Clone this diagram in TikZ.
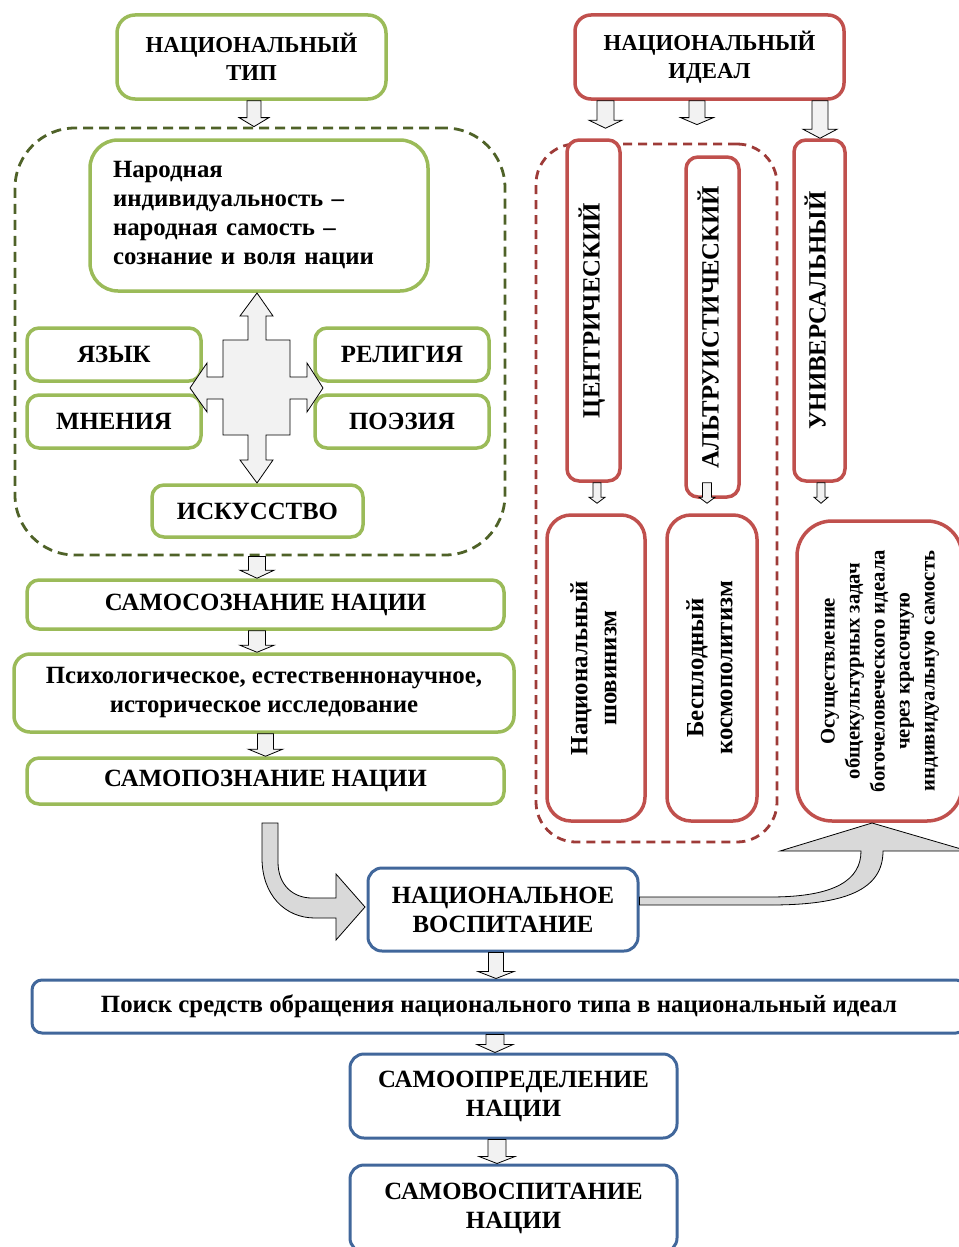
\documentclass[tikz,border=0pt]{standalone}
\usepackage{fontspec}
\setmainfont{Liberation Serif}
\usetikzlibrary{calc}
\definecolor{grn}{HTML}{9BBB59}
\definecolor{olv}{HTML}{4F6228}
\definecolor{rd}{HTML}{C0504D}
\definecolor{drd}{HTML}{9E3B38}
\definecolor{blu}{HTML}{41679B}
\definecolor{afill}{HTML}{F2F2F2}
\definecolor{bfill}{HTML}{D9D9D9}
\tikzset{
  basebox/.style={rectangle, fill=white, inner sep=0pt, align=center,
    font=\bfseries\fontsize{24.8}{29}\selectfont},
  gbox/.style={basebox, draw=grn, line width=3.5pt, rounded corners=12pt},
  rbox/.style={basebox, draw=rd, line width=3.5pt, rounded corners=12pt},
  bbox/.style={basebox, draw=blu, line width=3pt, rounded corners=14pt},
  topfont/.style={font=\bfseries\fontsize{22.8}{28}\selectfont},
  gcont/.style={rectangle, draw=olv, line width=2.8pt, dash pattern=on 10pt off 6pt, rounded corners=60pt, inner sep=0pt},
  rcont/.style={rectangle, draw=drd, line width=2.8pt, dash pattern=on 9pt off 6pt, rounded corners=40pt, inner sep=0pt},
  barr/.style={draw=black, line width=0.8pt, fill=afill, line join=miter},
  bigarr/.style={draw=black, line width=0.8pt, fill=bfill, line join=miter},
}
% #1 x (px), #2 source point, #3 target point, #4 shaft half width, #5 head half width, #6 head length
\newcommand{\blk}[6]{\draw[barr] let \p1=(#2), \p2=(#3) in
  (#1pt-#4pt,\y1) -- (#1pt+#4pt,\y1) -- (#1pt+#4pt,\y2+#6pt) -- (#1pt+#5pt,\y2+#6pt)
  -- (#1pt,\y2) -- (#1pt-#5pt,\y2+#6pt) -- (#1pt-#4pt,\y2+#6pt) -- cycle;}
\newcommand{\vtext}[1]{\rotatebox{90}{\begin{tabular}{@{}c@{}}#1\end{tabular}}}
\begin{document}
\begin{tikzpicture}[x=1pt,y=-1pt]
\useasboundingbox (0,0) rectangle (958,1247);
% ---------- containers ----------
\node[gcont, minimum width=490pt, minimum height=427pt] (cont) at (260,341.5) {};
\node[rcont, minimum width=241pt, minimum height=698pt] (rcont) at (656.5,493) {};
% ---------- green column ----------
\node[gbox, topfont, minimum width=269pt, minimum height=84pt, rounded corners=18pt] (type) at (251.5,57) {НАЦИОНАЛЬНЫЙ\\ТИП};
\node[gbox, minimum width=338pt, minimum height=151pt, rounded corners=28pt, text width=292pt, align=left] (narod) at (259,215.5) {Народная\\индивидуальность –\\народная самость –\\сознание и воля нации};
\node[gbox, minimum width=174pt, minimum height=53pt] (lang) at (114,354.5) {ЯЗЫК};
\node[gbox, minimum width=174pt, minimum height=53pt] (opin) at (114,421.5) {МНЕНИЯ};
\node[gbox, minimum width=174pt, minimum height=53pt] (relig) at (402,354.5) {РЕЛИГИЯ};
\node[gbox, minimum width=174pt, minimum height=53pt] (poet) at (402,421.5) {ПОЭЗИЯ};
\node[gbox, minimum width=211pt, minimum height=52pt] (art) at (257.5,511) {ИСКУССТВО};
\node[gbox, minimum width=477pt, minimum height=49pt] (sozn) at (265.5,604.5) {САМОСОЗНАНИЕ НАЦИИ};
\node[gbox, minimum width=500pt, minimum height=78pt, rounded corners=16pt] (psych) at (264,693) {Психологическое, естественнонаучное,\\историческое исследование};
\node[gbox, minimum width=477pt, minimum height=46pt] (pozn) at (265.5,781) {САМОПОЗНАНИЕ НАЦИИ};
% ---------- red column ----------
\node[rbox, topfont, minimum width=269pt, minimum height=84pt, rounded corners=16pt] (ideal) at (709.5,57) {НАЦИОНАЛЬНЫЙ\\ИДЕАЛ};
\node[rbox, minimum width=53pt, minimum height=341pt] (centr) at (593.5,310.5) {\vtext{ЦЕНТРИЧЕСКИЙ}};
\node[rbox, minimum width=53pt, minimum height=340pt] (altr) at (712.5,327) {\vtext{АЛЬТРУИСТИЧЕСКИЙ}};
\node[rbox, minimum width=51pt, minimum height=341pt] (univ) at (819.5,310.5) {\vtext{УНИВЕРСАЛЬНЫЙ}};
\node[rbox, minimum width=98pt, minimum height=306pt, rounded corners=24pt] (chauv) at (596,668) {\vtext{Национальный\\шовинизм}};
\node[rbox, minimum width=90pt, minimum height=306pt, rounded corners=24pt] (cosmo) at (712,668) {\vtext{Бесплодный\\космополитизм}};
\node[rbox, minimum width=165pt, minimum height=300pt, rounded corners=35pt,
  font=\bfseries\fontsize{20.7}{25}\selectfont] (osush) at (879.5,671) {\vtext{Осуществление\\общекультурных задач\\богочеловеческого идеала\\через красочную\\индивидуальную самость}};
% ---------- blue column ----------
\node[bbox, minimum width=270pt, minimum height=83pt] (vosp) at (503,909.5) {НАЦИОНАЛЬНОЕ\\ВОСПИТАНИЕ};
\node[bbox, minimum width=934pt, minimum height=53pt, rounded corners=10pt] (search) at (499,1006.5) {Поиск средств обращения национального типа в национальный идеал};
\node[bbox, minimum width=327pt, minimum height=84pt] (samoopr) at (513.5,1096) {САМООПРЕДЕЛЕНИЕ\\НАЦИИ};
\node[bbox, minimum width=327pt, minimum height=87pt] (samovosp) at (513.5,1208.5) {САМОВОСПИТАНИЕ\\НАЦИИ};
% ---------- cross arrow ----------
\coordinate (cx) at (257,388);
\draw[barr] (257,293) -- (273,316) -- (266,316) -- (266,340) -- (290,340) -- (290,377) -- (307,377) -- (307,363)
  -- (323,388) -- (307,412) -- (307,399) -- (290,399) -- (290,435) -- (266,435) -- (266,460) -- (273,460)
  -- (257,483) -- (240,460) -- (248,460) -- (248,435) -- (223,435) -- (223,399) -- (207,399) -- (207,412)
  -- (190,388) -- (207,363) -- (207,377) -- (223,377) -- (223,340) -- (248,340) -- (248,316) -- (240,316) -- cycle;
% ---------- small block arrows ----------
\blk{254}{type.south}{cont.north}{7}{15}{9}
\blk{257}{cont.south}{sozn.north}{8.5}{17}{8}
\blk{257}{sozn.south}{psych.north}{8.5}{17}{7}
\blk{265.5}{psych.south}{pozn.north}{8}{17}{7}
\blk{605.5}{ideal.south}{$(centr.north)+(0,-10)$}{8.5}{16.5}{8}
\blk{697}{ideal.south}{$(rcont.north)+(0,-18)$}{8}{16.5}{7}
\blk{820}{ideal.south}{univ.north}{8}{17}{9}
\blk{597}{centr.south}{$(chauv.north)+(0,-10)$}{4}{8}{6}
\blk{707}{$(altr.south)+(0,-16)$}{$(cosmo.north)+(0,-10)$}{4.5}{8}{6}
\blk{821}{univ.south}{$(osush.north)+(0,-16)$}{4}{7}{6}
\blk{496}{vosp.south}{search.north}{7.5}{18}{7}
\blk{495}{search.south}{samoopr.north}{9}{18}{8}
\blk{497}{samoopr.south}{samovosp.north}{9}{18}{7}
% ---------- big curved arrows ----------
\draw[bigarr] (262,823) -- (262,858) .. controls (262,895) and (285,918) .. (315,918) -- (336,918) -- (336,940)
  -- (365,907) -- (336,874) -- (336,898) -- (312,898) .. controls (293,898) and (278,885) .. (278,862) -- (278,823) -- cycle;
\draw[bigarr] (vosp.east |- 0,897) -- (770,897) .. controls (835,897) and (861,880) .. (861,851) -- (780,851)
  -- (872,823) -- (968,851) -- (883,851) .. controls (883,890) and (845,905) .. (770,905) -- (vosp.east |- 0,905) -- cycle;
\end{tikzpicture}
\end{document}
